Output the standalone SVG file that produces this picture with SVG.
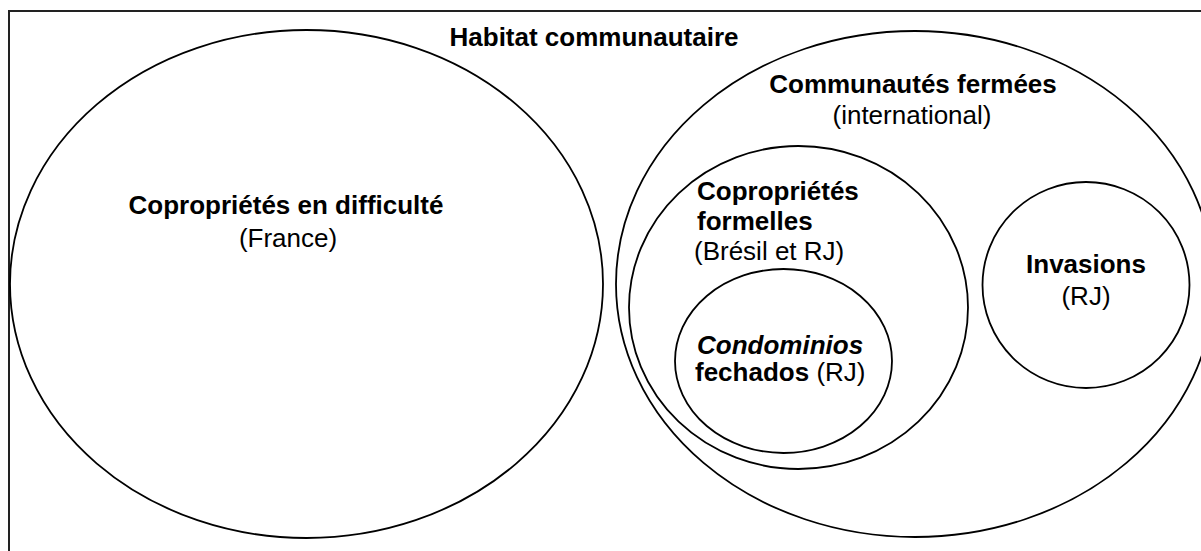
<svg xmlns="http://www.w3.org/2000/svg" width="1201" height="551" viewBox="0 0 1201 551">
<style>
.sh{fill:none;stroke:#000;stroke-width:1.8}
.t{font-family:"Liberation Sans",Arial,sans-serif;font-size:26px;fill:#000}
.b{font-weight:bold}
</style>
<rect x="0" y="0" width="1201" height="551" fill="#fff"/>
<g id="frame">
<rect x="9" y="11" width="1220" height="560" fill="none" stroke="#222" stroke-width="2"/>
<text class="t b" x="594" y="46" text-anchor="middle">Habitat communautaire</text>
</g>
<g id="node-difficulte">
<ellipse class="sh" cx="306.5" cy="284" rx="296.5" ry="254"/>
<text class="t b" x="286" y="214" text-anchor="middle">Copropriétés en difficulté</text>
<text class="t" x="288" y="247" text-anchor="middle">(France)</text>
</g>
<g id="node-fermees">
<ellipse class="sh" cx="915" cy="284" rx="299" ry="253"/>
<text class="t b" x="913" y="93" text-anchor="middle">Communautés fermées</text>
<text class="t" x="912" y="124" text-anchor="middle">(international)</text>
</g>
<g id="node-formelles">
<ellipse class="sh" cx="798.5" cy="307.5" rx="169.5" ry="161.5"/>
<text class="t b" x="697" y="200">Copropriétés</text>
<text class="t b" x="697" y="230">formelles</text>
<text class="t" x="694" y="260">(Brésil et RJ)</text>
</g>
<g id="node-condominios">
<ellipse class="sh" cx="783.5" cy="361" rx="108.5" ry="92"/>
<text class="t b" x="697" y="354" font-style="italic">Condominios</text>
<text class="t" x="695" y="381"><tspan class="b">fechados</tspan> (RJ)</text>
</g>
<g id="node-invasions">
<ellipse class="sh" cx="1086" cy="285" rx="103.5" ry="103"/>
<text class="t b" x="1086" y="273" text-anchor="middle">Invasions</text>
<text class="t" x="1086" y="305" text-anchor="middle">(RJ)</text>
</g>
<g id="connectors"></g>
</svg>
